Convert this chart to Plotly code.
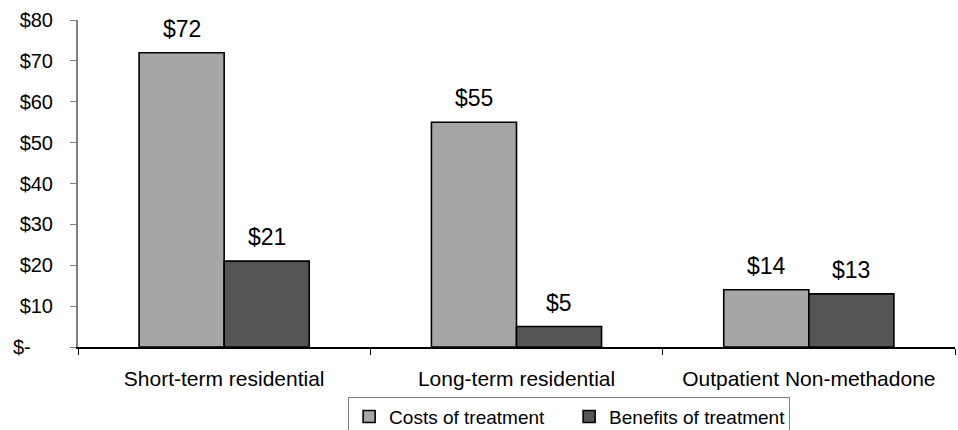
import plotly.graph_objects as go

# Treatment settings and per-dollar values
categories = ["Short-term residential", "Long-term residential", "Outpatient Non-methadone"]
costs = [72, 55, 14]
benefits = [21, 5, 13]

series_names = ["Costs of treatment", "Benefits of treatment"]
series_colors = ["#A6A6A6", "#555555"]

y_tick_values = [0, 10, 20, 30, 40, 50, 60, 70, 80]
y_tick_labels = ["$-\u00a0\u00a0\u00a0\u00a0", "$10", "$20", "$30", "$40", "$50", "$60", "$70", "$80"]

FONT = "Liberation Sans, Arial, sans-serif"

fig = go.Figure()
for name, vals, color in zip(series_names, [costs, benefits], series_colors):
    fig.add_trace(go.Bar(
        name=name,
        x=categories,
        y=vals,
        marker=dict(color=color, line=dict(color="#000000", width=1.6)),
    ))

# value labels above each bar
bar_shift = 42.5
for vals, dx in zip([costs, benefits], [-bar_shift, bar_shift]):
    for cat, v in zip(categories, vals):
        fig.add_annotation(
            x=cat, y=v, xref="x", yref="y",
            text=f"${v:.0f}",
            showarrow=False,
            xshift=dx, yshift=9,
            yanchor="bottom",
            font=dict(family=FONT, size=23, color="#000000"),
        )

fig.update_layout(
    width=958, height=430,
    margin=dict(l=78, r=3, t=20, b=83, autoexpand=False),
    paper_bgcolor="white",
    plot_bgcolor="white",
    barmode="group",
    bargap=0.418,
    bargroupgap=0,
    showlegend=True,
    legend=dict(
        orientation="h",
        x=0.56, xanchor="center",
        y=-0.152, yanchor="top",
        bordercolor="#808080", borderwidth=1,
        font=dict(family=FONT, size=19, color="#000000"),
        itemwidth=30,
        entrywidth=175,
        traceorder="normal",
    ),
    font=dict(family=FONT, color="#000000"),
)

fig.update_xaxes(
    showline=True, linecolor="#000000", linewidth=1.5,
    ticks="outside", tickson="boundaries", ticklen=6, tickcolor="#000000",
    tickfont=dict(family=FONT, size=21, color="#000000"),
    ticklabelstandoff=12,
    showgrid=False, zeroline=False,
)
fig.update_yaxes(
    range=[0, 80],
    tickvals=y_tick_values, ticktext=y_tick_labels,
    showline=True, linecolor="#808080", linewidth=2,
    ticks="outside", ticklen=6, tickcolor="#808080",
    tickfont=dict(family=FONT, size=20, color="#000000"),
    ticklabelstandoff=13,
    showgrid=False, zeroline=False,
)

fig.write_html("out.html")
